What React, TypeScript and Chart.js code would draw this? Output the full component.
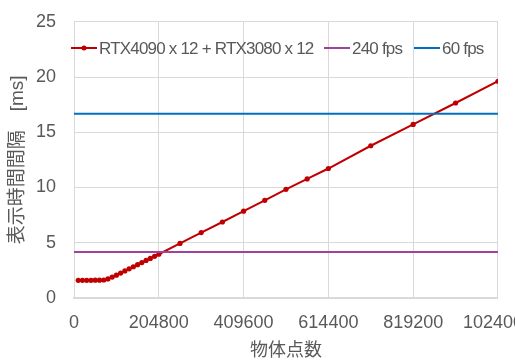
import React, { useEffect, useRef } from "react";
import { Chart, registerables } from "chart.js";

Chart.register(...registerables);

const xTicks = [0, 204800, 409600, 614400, 819200, 1024000];
const seriesX = [
  10240, 20480, 30720, 40960, 51200, 61440, 71680, 81920, 92160, 102400,
  112640, 122880, 133120, 143360, 153600, 163840, 174080, 184320, 194560, 204800,
  256000, 307200, 358400, 409600, 460800, 512000, 563200, 614400, 716800, 819200,
  921600, 1024000,
];
const seriesY = [
  1.6, 1.6, 1.6, 1.6, 1.61, 1.61, 1.63, 1.73, 1.89, 2.07,
  2.26, 2.45, 2.64, 2.83, 3.02, 3.21, 3.4, 3.58, 3.77, 3.96,
  4.94, 5.92, 6.88, 7.86, 8.84, 9.84, 10.78, 11.72, 13.78, 15.71,
  17.65, 19.62,
];
const seriesName = "RTX4090 x 12 + RTX3080 x 12";
const fps240Name = "240 fps";
const fps60Name = "60 fps";
const fps240Value = 1000 / 240;
const fps60Value = 1000 / 60;
const xTitle = "物体点数";
const yTitle = "表示時間間隔\u3000[ms]";

const RED = "#C00000";
const PURPLE = "#A0409F";
const BLUE = "#0070C0";
const GRID = "#D9D9D9";
const TEXT = "#595959";
const FONT = "'Liberation Sans', 'Noto Sans CJK JP', sans-serif";
const SHIFT = 7;

const legendPlugin = {
  id: "insideLegend",
  afterDraw(chart: any) {
    const ctx = chart.ctx as CanvasRenderingContext2D;
    const y = 48 + SHIFT;
    const items = [
      { x: 71, color: RED, text: seriesName, dot: true },
      { x: 324, color: PURPLE, text: fps240Name, dot: false },
      { x: 414, color: BLUE, text: fps60Name, dot: false },
    ];
    ctx.save();
    (ctx as any).letterSpacing = "-0.8px";
    ctx.font = "17px " + FONT;
    ctx.textBaseline = "middle";
    ctx.textAlign = "left";
    for (const it of items) {
      ctx.strokeStyle = it.color;
      ctx.lineWidth = 2;
      ctx.beginPath();
      ctx.moveTo(it.x, y);
      ctx.lineTo(it.x + 26, y);
      ctx.stroke();
      if (it.dot) {
        ctx.fillStyle = it.color;
        ctx.beginPath();
        ctx.arc(it.x + 13, y, 2.5, 0, Math.PI * 2);
        ctx.fill();
      }
      ctx.fillStyle = TEXT;
      ctx.fillText(it.text, it.x + 28, y + 1);
    }
    ctx.restore();
  },
};

export default function App() {
  const ref = useRef<HTMLCanvasElement | null>(null);
  useEffect(() => {
    if (!ref.current) return;
    const xMax = xTicks[xTicks.length - 1];
    const chart = new Chart(ref.current, {
      type: "line",
      data: {
        datasets: [
          {
            label: seriesName,
            data: seriesX.map((x, i) => ({ x, y: seriesY[i] })),
            borderColor: RED,
            backgroundColor: RED,
            borderWidth: 2,
            pointRadius: 2.6,
            pointBorderWidth: 0,
            pointBackgroundColor: RED,
            order: 3,
          },
          {
            label: fps240Name,
            data: [
              { x: xTicks[0], y: fps240Value },
              { x: xMax, y: fps240Value },
            ],
            borderColor: PURPLE,
            borderWidth: 2,
            pointRadius: 0,
            order: 2,
          },
          {
            label: fps60Name,
            data: [
              { x: xTicks[0], y: fps60Value },
              { x: xMax, y: fps60Value },
            ],
            borderColor: BLUE,
            borderWidth: 2,
            pointRadius: 0,
            order: 1,
          },
        ],
      },
      options: {
        animation: false,
        responsive: false,
        devicePixelRatio: 1,
        layout: { padding: { top: 0, right: 0, bottom: 0, left: 0 } },
        plugins: {
          legend: { display: false },
          tooltip: { enabled: false },
        },
        scales: {
          x: {
            type: "linear",
            min: 0,
            max: xMax,
            afterBuildTicks: (scale: any) => {
              scale.ticks = xTicks.map((v) => ({ value: v }));
            },
            afterFit: (scale: any) => {
              scale.height = 62;
            },
            ticks: {
              color: TEXT,
              font: { family: FONT, size: 18 },
              padding: 14,
              maxRotation: 0,
              autoSkip: false,
              callback: (v: any) => String(v),
            },
            grid: { color: GRID, lineWidth: 1, drawTicks: false },
            border: { color: GRID, width: 2 },
            title: {
              display: true,
              text: xTitle,
              color: TEXT,
              font: { family: FONT, size: 18, lineHeight: 1 },
              padding: { top: 7, bottom: 0 },
            },
          },
          y: {
            min: 0,
            max: 25,
            afterFit: (scale: any) => {
              scale.width = 74;
            },
            ticks: {
              stepSize: 5,
              color: TEXT,
              font: { family: FONT, size: 18 },
              padding: 18,
            },
            grid: { color: GRID, lineWidth: 1, drawTicks: false },
            border: { color: GRID, width: 1 },
            title: {
              display: true,
              text: yTitle,
              color: TEXT,
              font: { family: FONT, size: 19, lineHeight: 1.2 },
              padding: { top: 6, bottom: 7 },
            },
          },
        },
      },
      plugins: [legendPlugin],
    });
    return () => chart.destroy();
  }, []);
  return (
    <div
      style={{
        position: "absolute",
        left: 0,
        top: 0,
        width: 515,
        height: 360,
        overflow: "hidden",
        background: "#fff",
      }}
    >
      <canvas
        ref={ref}
        width={547}
        height={360 + SHIFT}
        style={{ display: "block", marginTop: -SHIFT }}
      />
    </div>
  );
}
